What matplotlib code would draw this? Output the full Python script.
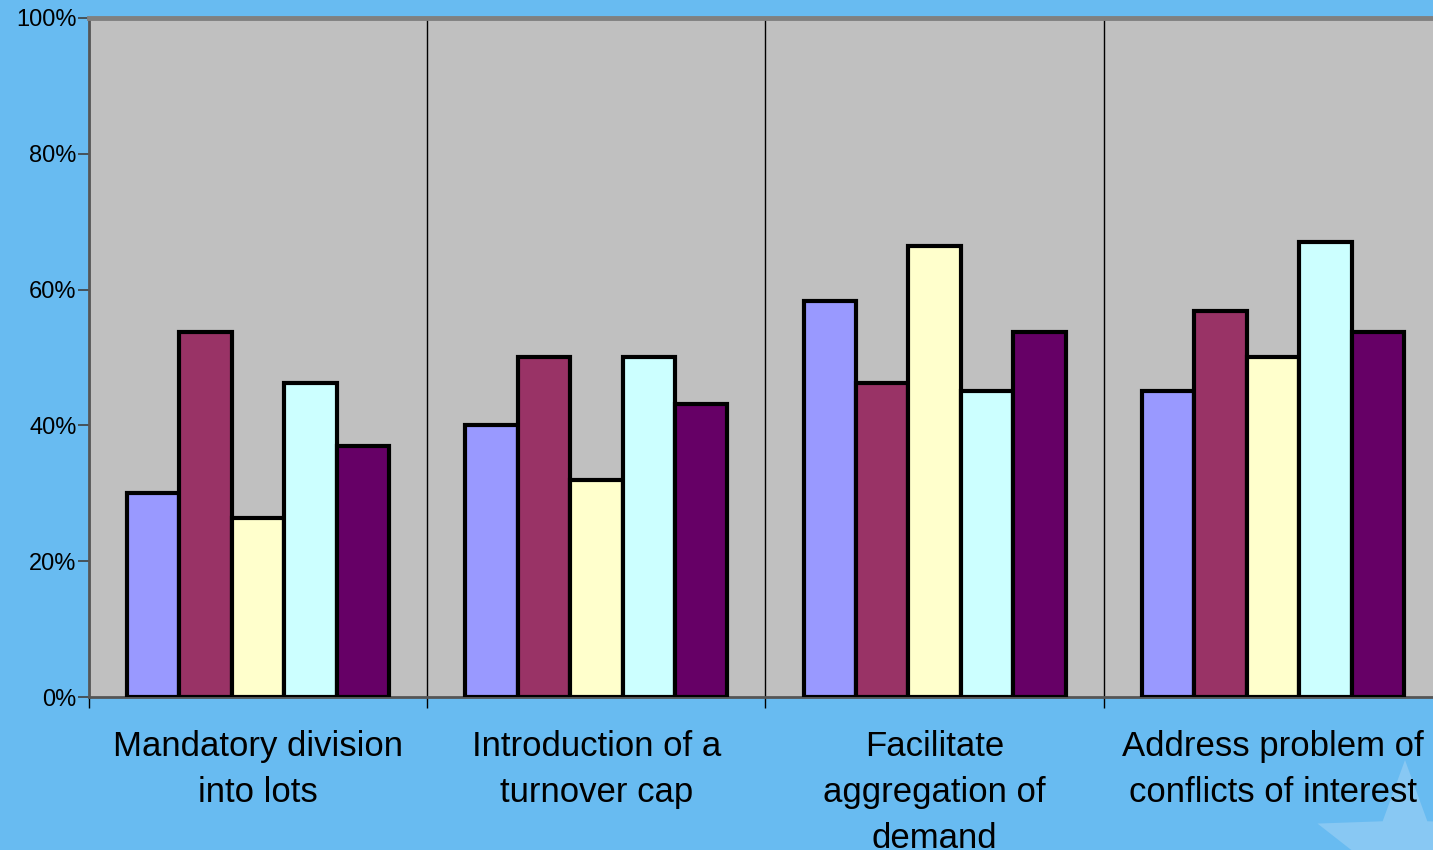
import numpy as np
import matplotlib
matplotlib.use("Agg")
import matplotlib.pyplot as plt
from matplotlib.patches import Polygon

# ---------- data ----------
categories = ["Mandatory division\ninto lots",
              "Introduction of a\nturnover cap",
              "Facilitate\naggregation of\ndemand",
              "Address problem of\nconflicts of interest"]
series_blue   = [30.1, 40.0, 58.3, 45.0]
series_maroon = [53.7, 50.1, 46.3, 56.8]
series_yellow = [26.3, 31.9, 66.4, 50.1]
series_cyan   = [46.3, 50.1, 45.0, 67.0]
series_purple = [36.9, 43.2, 53.7, 53.7]
yticks = [0, 20, 40, 60, 80, 100]
ytick_labels = ["0%", "20%", "40%", "60%", "80%", "100%"]

all_series = [series_blue, series_maroon, series_yellow, series_cyan, series_purple]
colors = ["#9999FF", "#993366", "#FFFFCC", "#CCFFFF", "#660066"]

BG = "#68BBF1"
W, H = 1433, 850

plt.rcParams['font.family'] = ['Liberation Sans', 'DejaVu Sans']

fig = plt.figure(figsize=(W / 100, H / 100), dpi=100)
fig.patch.set_facecolor(BG)

# faint star in lower right corner (background decoration)
cx, cy, r_out, r_in = 1405, 852, 92, 38
pts = []
for k in range(10):
    ang = np.pi / 2 + k * np.pi / 5
    r = r_out if k % 2 == 0 else r_in
    pts.append(((cx + r * np.cos(ang)) / W, (H - cy + r * np.sin(ang)) / H))
fig.patches.append(Polygon(pts, closed=True, transform=fig.transFigure,
                           facecolor="#88C8F3", edgecolor="none", zorder=-5))

left, right, top, bottom = 89, 1442, 18, 697
ax = fig.add_axes([left / W, (H - bottom) / H, (right - left) / W, (bottom - top) / H])
ax.set_facecolor("#C0C0C0")
ax.set_zorder(1)

n = len(categories)
bar_w = 0.155
x = np.arange(n) + 0.5
for i, (vals, col) in enumerate(zip(all_series, colors)):
    offs = (i - 2) * bar_w
    ax.bar(x + offs, vals, width=bar_w, color=col, edgecolor="black",
           linewidth=3, zorder=3)

ax.set_xlim(0, n)
ax.set_ylim(0, 100)

# separators between categories
for b in range(1, n):
    ax.axvline(b, color="black", linewidth=1, zorder=1)

ax.set_yticks(yticks)
ax.set_yticklabels(ytick_labels, fontsize=17)
ax.tick_params(axis="y", direction="out", length=8, width=1.2, color="#404040", pad=1)

ax.set_xticks(range(n + 1))
ax.set_xticklabels([])
ax.tick_params(axis="x", which="major", direction="out", length=8, width=1, color="black")
ax.set_xticks(x, minor=True)
ax.set_xticklabels(categories, minor=True, fontsize=25, linespacing=1.5)
ax.tick_params(axis="x", which="minor", length=0, pad=24)

for s in ["left", "bottom"]:
    ax.spines[s].set_color("#555555")
    ax.spines[s].set_linewidth(2)
ax.spines["top"].set_color("#808080")
ax.spines["top"].set_linewidth(3.5)
ax.spines["right"].set_visible(False)

fig.savefig("out.png", dpi=100, facecolor=BG)
